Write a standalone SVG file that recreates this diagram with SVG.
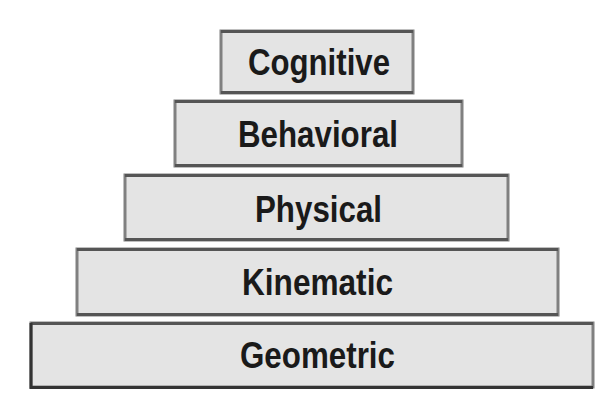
<svg xmlns="http://www.w3.org/2000/svg" width="600" height="405" viewBox="0 0 600 405">
  <style>
    .box { fill: #e4e4e4; stroke: #808080; stroke-width: 3; }
    .edge { stroke: #555555; stroke-width: 3; fill: none; }
    .label { font-family: "Liberation Sans", Arial, sans-serif; font-weight: bold; font-size: 36px; fill: #1a1a1a; text-anchor: middle; }
  </style>
  <rect width="600" height="405" fill="#ffffff"/>

  <!-- Pyramid layers, top to bottom -->
  <g id="cognitive">
    <rect class="box" x="221" y="31" width="192" height="62"/>
    <path class="edge" d="M221 31.5H413M221 92.5H413"/>
    <text class="label" x="319" y="75" textLength="142" lengthAdjust="spacingAndGlyphs">Cognitive</text>
  </g>

  <g id="behavioral">
    <rect class="box" x="175" y="101" width="287" height="65"/>
    <path class="edge" d="M175 101.5H462M175 165.5H462"/>
    <text class="label" x="318" y="147" textLength="160" lengthAdjust="spacingAndGlyphs">Behavioral</text>
  </g>

  <g id="physical">
    <rect class="box" x="125" y="175" width="383" height="65"/>
    <path class="edge" d="M125 175.5H508M125 239.5H508"/>
    <text class="label" x="318.5" y="222" textLength="127" lengthAdjust="spacingAndGlyphs">Physical</text>
  </g>

  <g id="kinematic">
    <rect class="box" x="77" y="249" width="481" height="66"/>
    <path class="edge" d="M77 249.5H558M77 314.5H558"/>
    <text class="label" x="317.5" y="295" textLength="151" lengthAdjust="spacingAndGlyphs">Kinematic</text>
  </g>

  <g id="geometric">
    <rect class="box" x="31" y="323" width="562" height="64"/>
    <path class="edge" d="M31 323.5H593"/>
    <path d="M31 323V387.5H593" stroke="#333333" stroke-width="3" fill="none"/>
    <text class="label" x="317.5" y="368" textLength="155" lengthAdjust="spacingAndGlyphs">Geometric</text>
  </g>
</svg>
